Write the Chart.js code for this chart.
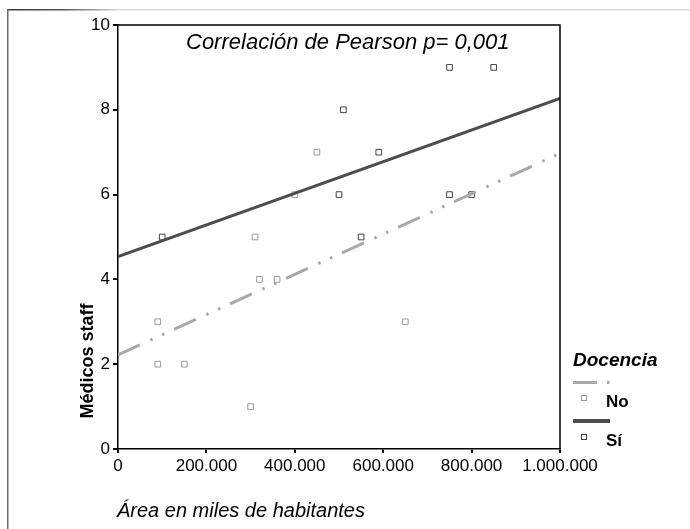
<!DOCTYPE html>
<html>
<head>
<meta charset="utf-8">
<script src="https://cdn.jsdelivr.net/npm/chart.js@4.4.1/dist/chart.umd.min.js"></script>
<style>
  html, body { margin: 0; padding: 0; background: #fff; }
  canvas { display: block; }
</style>
</head>
<body>
<canvas id="c" width="690" height="529"></canvas>
<script>
// ---- data ----
const noX = [90000, 90000, 150000, 300000, 310000, 320000, 360000, 400000, 450000, 650000];
const noY = [3, 2, 2, 1, 5, 4, 4, 6, 7, 3];
const siX = [100000, 500000, 510000, 550000, 590000, 750000, 750000, 800000, 850000];
const siY = [5, 6, 8, 5, 7, 9, 6, 6, 9];
// fitted lines (end values)
const fitX = [0, 1000000];
const noFitY = [2.22, 6.97];
const siFitY = [4.54, 8.27];
// ticks
const xTickValues = [0, 200000, 400000, 600000, 800000, 1000000];
const xTickLabels = ['0', '200.000', '400.000', '600.000', '800.000', '1.000.000'];
const yTickValues = [0, 2, 4, 6, 8, 10];
// texts
const chartTitle = 'Correlación de Pearson p= 0,001';
const xTitle = 'Área en miles de habitantes';
const yTitle = 'Médicos staff';
const legendTitle = 'Docencia';
const seriesNames = ['No', 'Sí'];

const FONT = "'Liberation Sans', Arial, sans-serif";
const colNoPt = '#9a9a9a', colSiPt = '#404040';
const colNoLine = '#a8a8a8', colSiLine = '#4d4d4d';
const noDash = [24, 11.5, 2.5, 10.3, 2.5, 10.75];

const pts = (xs, ys) => xs.map((x, i) => ({ x: x, y: ys[i] }));

const decor = {
  id: 'decor',
  beforeDraw(chart) {
    const ctx = chart.ctx;
    ctx.save();
    ctx.fillStyle = '#fff';
    ctx.fillRect(0, 0, chart.width, chart.height);
    // outer frame (top + left)
    const g = ctx.createLinearGradient(7, 0, 120, 0);
    g.addColorStop(0, '#3a3a3a');
    g.addColorStop(0.5, '#555');
    g.addColorStop(1, '#dcdcdc');
    ctx.fillStyle = g;
    ctx.fillRect(7, 9, chart.width - 7, 1.5);
    ctx.fillStyle = '#6a6a6a';
    ctx.fillRect(7, 9, 1.5, chart.height - 9);
    ctx.restore();
  },
  afterDraw(chart) {
    const ctx = chart.ctx;
    const a = chart.chartArea;
    ctx.save();
    // top and right border of plot box
    ctx.strokeStyle = '#000';
    ctx.lineWidth = 1.5;
    ctx.beginPath();
    ctx.moveTo(a.left, a.top);
    ctx.lineTo(a.right, a.top);
    ctx.lineTo(a.right, a.bottom);
    ctx.stroke();

    // title inside plot
    ctx.fillStyle = '#000';
    ctx.textBaseline = 'middle';
    ctx.textAlign = 'left';
    ctx.font = 'italic 22px ' + FONT;
    ctx.fillText(chartTitle, 186, 43);

    // x axis title
    ctx.font = 'italic 20px ' + FONT;
    ctx.fillText(xTitle, 117, 511);

    // y axis title
    ctx.save();
    ctx.translate(88, 361);
    ctx.rotate(-Math.PI / 2);
    ctx.textAlign = 'center';
    ctx.font = 'bold 18px ' + FONT;
    ctx.fillText(yTitle, 0, 0);
    ctx.restore();

    // legend
    const lx = 573;
    ctx.font = 'bold italic 19px ' + FONT;
    ctx.fillText(legendTitle, lx, 361);
    // No: dash-dot sample
    ctx.lineCap = 'butt';
    ctx.strokeStyle = colNoLine;
    ctx.lineWidth = 3;
    ctx.setLineDash([24, 10, 2.5, 100]);
    ctx.beginPath();
    ctx.moveTo(lx, 382.5);
    ctx.lineTo(lx + 40, 382.5);
    ctx.stroke();
    ctx.setLineDash([]);
    ctx.lineWidth = 1;
    ctx.strokeStyle = colNoPt;
    ctx.fillStyle = '#fff';
    ctx.fillRect(581.5, 395.5, 5, 5);
    ctx.strokeRect(581.5, 395.5, 5, 5);
    ctx.fillStyle = '#000';
    ctx.font = 'bold 17px ' + FONT;
    ctx.fillText(seriesNames[0], 606, 402);
    // Sí: solid sample
    ctx.strokeStyle = colSiLine;
    ctx.lineWidth = 4;
    ctx.beginPath();
    ctx.moveTo(lx, 421);
    ctx.lineTo(lx + 37, 421);
    ctx.stroke();
    ctx.lineWidth = 1;
    ctx.strokeStyle = colSiPt;
    ctx.fillStyle = '#fff';
    ctx.fillRect(581.5, 434.5, 5, 5);
    ctx.strokeRect(581.5, 434.5, 5, 5);
    ctx.fillStyle = '#000';
    ctx.fillText(seriesNames[1], 606, 441);
    ctx.restore();
  }
};

new Chart(document.getElementById('c'), {
  type: 'scatter',
  data: {
    datasets: [
      {
        label: seriesNames[1] + ' (ajuste)',
        data: pts(fitX, siFitY),
        showLine: true,
        borderColor: colSiLine,
        borderWidth: 3,
        pointRadius: 0,
        fill: false
      },
      {
        label: seriesNames[0] + ' (ajuste)',
        data: pts(fitX, noFitY),
        showLine: true,
        borderColor: colNoLine,
        borderWidth: 3,
        borderDash: noDash,
        pointRadius: 0,
        fill: false
      },
      {
        label: seriesNames[1],
        data: pts(siX, siY),
        pointStyle: 'rect',
        pointRadius: 4,
        borderWidth: 1,
        borderColor: colSiPt,
        backgroundColor: '#fff'
      },
      {
        label: seriesNames[0],
        data: pts(noX, noY),
        pointStyle: 'rect',
        pointRadius: 4,
        borderWidth: 1,
        borderColor: colNoPt,
        backgroundColor: '#fff'
      }
    ]
  },
  options: {
    responsive: false,
    animation: false,
    events: [],
    layout: { padding: { left: 0, top: 25, right: 130, bottom: 0 } },
    plugins: {
      legend: { display: false },
      tooltip: { enabled: false },
      title: { display: false }
    },
    scales: {
      x: {
        type: 'linear',
        min: 0,
        max: 1000000,
        afterFit(s) { s.height = 80; },
        afterBuildTicks(s) { s.ticks = xTickValues.map(v => ({ value: v })); },
        grid: { drawOnChartArea: false, drawTicks: true, tickLength: 4, color: '#000', lineWidth: 2 },
        border: { display: true, color: '#000', width: 1.5 },
        ticks: {
          color: '#000',
          font: { family: FONT, size: 17 },
          padding: 3,
          maxRotation: 0,
          autoSkip: false,
          callback: (v) => xTickLabels[xTickValues.indexOf(v)]
        }
      },
      y: {
        type: 'linear',
        min: 0,
        max: 10,
        afterFit(s) { s.width = 118; },
        afterBuildTicks(s) { s.ticks = yTickValues.map(v => ({ value: v })); },
        grid: { drawOnChartArea: false, drawTicks: true, tickLength: 5, color: '#000', lineWidth: 2 },
        border: { display: true, color: '#000', width: 1.5 },
        ticks: {
          color: '#000',
          font: { family: FONT, size: 17 },
          padding: 3,
          callback: (v) => String(v)
        }
      }
    }
  },
  plugins: [decor]
});
</script>
</body>
</html>
